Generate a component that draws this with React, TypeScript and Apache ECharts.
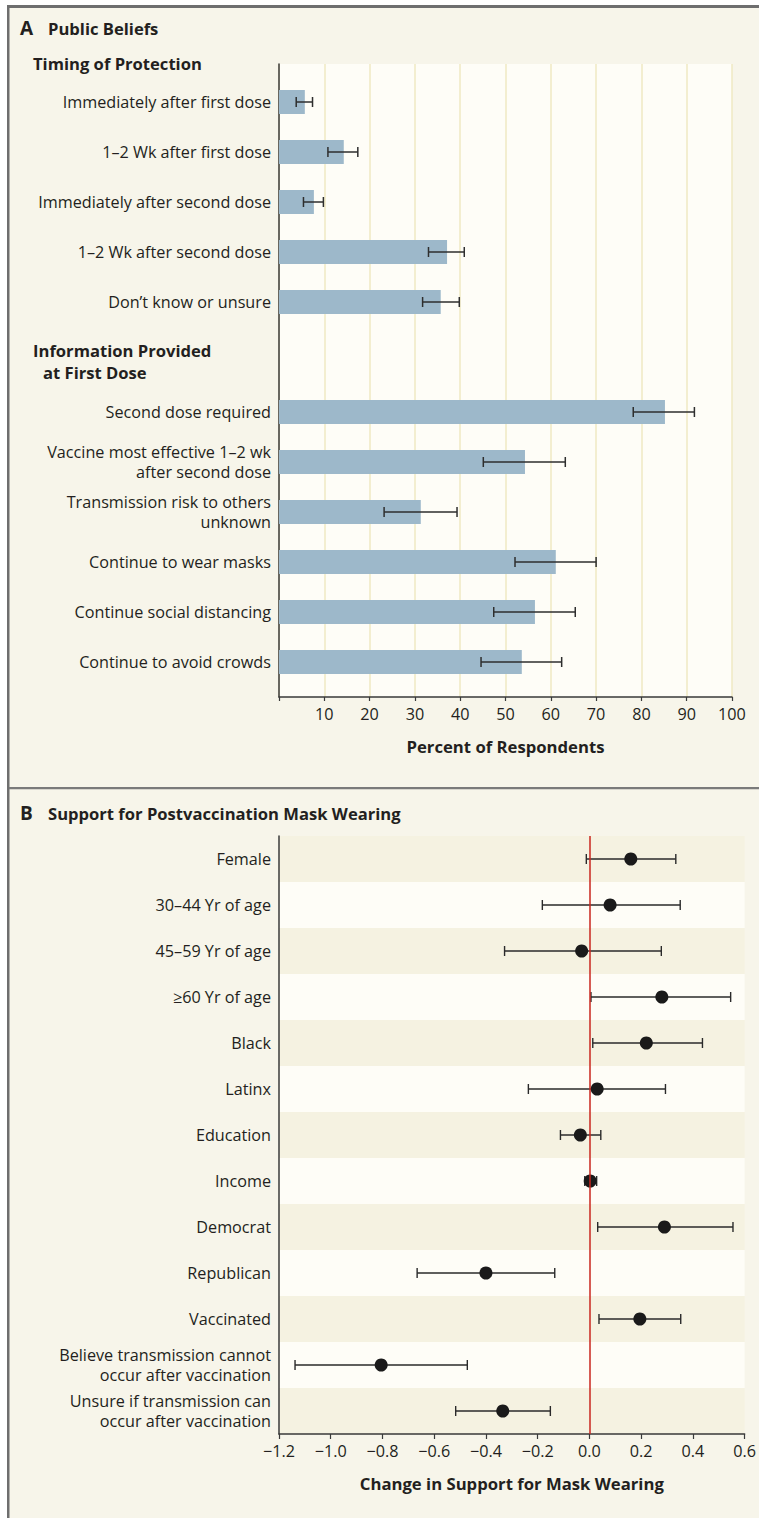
import React, { useEffect, useRef } from "react";
import * as echarts from "echarts";

// ---------- Panel A data ----------
const timingCats = [
  "Immediately after first dose",
  "1–2 Wk after first dose",
  "Immediately after second dose",
  "1–2 Wk after second dose",
  "Don’t know or unsure",
];
const timingVals = [5.7, 14.3, 7.7, 37.1, 35.7];
const timingLo = [3.8, 10.8, 5.4, 33.0, 31.7];
const timingHi = [7.4, 17.4, 9.8, 40.9, 39.8];

const infoCats = [
  "Second dose required",
  "Vaccine most effective 1–2 wk\nafter second dose",
  "Transmission risk to others\nunknown",
  "Continue to wear masks",
  "Continue social distancing",
  "Continue to avoid crowds",
];
const infoVals = [85.2, 54.3, 31.3, 61.1, 56.5, 53.6];
const infoLo = [78.2, 45.1, 23.2, 52.1, 47.4, 44.6];
const infoHi = [91.7, 63.2, 39.3, 70.0, 65.4, 62.4];

const percentTicks = [10, 20, 30, 40, 50, 60, 70, 80, 90, 100];

// ---------- Panel B data ----------
const maskCats = [
  "Female",
  "30–44 Yr of age",
  "45–59 Yr of age",
  "≥60 Yr of age",
  "Black",
  "Latinx",
  "Education",
  "Income",
  "Democrat",
  "Republican",
  "Vaccinated",
  "Believe transmission cannot\noccur after vaccination",
  "Unsure if transmission can\noccur after vaccination",
];
const maskEst = [0.16, 0.08, -0.03, 0.28, 0.22, 0.03, -0.035, 0.003, 0.29, -0.4, 0.195, -0.805, -0.335];
const maskLo = [-0.012, -0.182, -0.328, 0.006, 0.013, -0.236, -0.112, -0.018, 0.032, -0.666, 0.037, -1.138, -0.517];
const maskHi = [0.334, 0.351, 0.278, 0.546, 0.437, 0.294, 0.044, 0.028, 0.555, -0.134, 0.353, -0.472, -0.151];

const FONT = "Open Sans";
const TXT = "#231f20";
const LABEL_SIZE = 16.2;
const HEAD_SIZE = 16.6;
const NAME_SIZE = 16.7;

export default function App() {
  const ref = useRef<HTMLDivElement>(null);

  useEffect(() => {
    if (!ref.current) return;
    const chart = echarts.init(ref.current, undefined, { renderer: "svg" });

    // Panel A rows: group 1 in slots 0..4, group 2 after a gap
    const GROUP_GAP = 6.2;
    const rowsA: any[] = [];
    const labelsA: string[] = [];
    timingCats.forEach((c, i) => {
      rowsA.push([i, timingVals[i], timingLo[i], timingHi[i]]);
      labelsA.push(c);
    });
    infoCats.forEach((c, i) => {
      rowsA.push([GROUP_GAP + i, infoVals[i], infoLo[i], infoHi[i]]);
      labelsA.push(c);
    });

    const errB = maskCats.map((c, i) => [maskLo[i], maskHi[i], c]);
    const dotB = maskCats.map((c, i) => [maskEst[i], c]);

    const minus = (v: number, d: number) => v.toFixed(d).replace("-", "\u2212");

    const head = (text: string, x: number, y: number, size = HEAD_SIZE) => ({
      type: "text",
      x,
      y,
      style: { text, fontSize: size, fontWeight: "bold", fontFamily: FONT, fill: TXT, verticalAlign: "middle" },
    });

    const option: any = {
      animation: false,
      backgroundColor: "#f7f5ea",
      textStyle: { fontFamily: FONT },
      grid: [
        { left: 279, top: 64, width: 453, height: 633, show: true, backgroundColor: "#fefdf7", borderWidth: 0 },
        { left: 279, top: 836, width: 467, height: 598, show: false },
      ],
      xAxis: [
        {
          gridIndex: 0,
          type: "value",
          min: 0,
          max: 100,
          interval: 10,
          axisLine: { show: true, onZero: false, lineStyle: { color: "#3a3a3a", width: 1.5 } },
          axisTick: { show: true, length: 4, lineStyle: { color: "#3a3a3a", width: 1.2 } },
          splitLine: { show: true, lineStyle: { color: "#efe9c3", width: 1.5 } },
          axisLabel: {
            fontSize: LABEL_SIZE,
            color: TXT,
            fontFamily: FONT,
            margin: 9,
            formatter: (v: number) => (percentTicks.indexOf(v) >= 0 ? String(v) : ""),
          },
          name: "Percent of Respondents",
          nameLocation: "middle",
          nameGap: 41,
          nameTextStyle: { fontSize: NAME_SIZE, fontWeight: "bold", color: TXT, fontFamily: FONT },
        },
        {
          gridIndex: 1,
          type: "value",
          min: -1.2,
          max: 0.6,
          interval: 0.2,
          axisLine: { show: true, onZero: false, lineStyle: { color: "#3a3a3a", width: 1.5 } },
          axisTick: { show: true, length: 5, lineStyle: { color: "#3a3a3a", width: 1.2 } },
          splitLine: { show: false },
          axisLabel: {
            fontSize: LABEL_SIZE,
            color: TXT,
            fontFamily: FONT,
            margin: 9,
            formatter: (v: number) => minus(v, 1),
          },
          name: "Change in Support for Mask Wearing",
          nameLocation: "middle",
          nameGap: 41,
          nameTextStyle: { fontSize: NAME_SIZE, fontWeight: "bold", color: TXT, fontFamily: FONT },
        },
      ],
      yAxis: [
        {
          gridIndex: 0,
          type: "value",
          inverse: true,
          min: -0.76,
          max: 11.9,
          axisLine: { show: true, onZero: false, lineStyle: { color: "#3a3a3a", width: 1.5 } },
          axisTick: { show: false },
          axisLabel: { show: false },
          splitLine: { show: false },
        },
        {
          gridIndex: 1,
          type: "category",
          data: maskCats,
          inverse: true,
          axisLine: { show: true, onZero: false, lineStyle: { color: "#3a3a3a", width: 1.5 } },
          axisTick: { show: false },
          splitLine: { show: false },
          splitArea: { show: true, areaStyle: { color: ["#f5f2e1", "#fefdf7"] } },
          axisLabel: { fontSize: LABEL_SIZE, color: TXT, fontFamily: FONT, margin: 8, lineHeight: 20 },
        },
      ],
      series: [
        {
          type: "custom",
          xAxisIndex: 0,
          yAxisIndex: 0,
          data: rowsA,
          renderItem: (params: any, api: any) => {
            const y = api.value(0);
            const v = api.value(1);
            const lo = api.value(2);
            const hi = api.value(3);
            const p0 = api.coord([0, y]);
            const pv = api.coord([v, y]);
            const pl = api.coord([lo, y]);
            const ph = api.coord([hi, y]);
            const stroke = { stroke: "#2e2e2e", lineWidth: 1.5 };
            return {
              type: "group",
              children: [
                {
                  type: "rect",
                  shape: { x: p0[0], y: p0[1] - 12, width: pv[0] - p0[0], height: 24 },
                  style: { fill: "#9db8ca" },
                },
                { type: "line", shape: { x1: pl[0], y1: pl[1], x2: ph[0], y2: ph[1] }, style: stroke },
                { type: "line", shape: { x1: pl[0], y1: pl[1] - 5, x2: pl[0], y2: pl[1] + 5 }, style: stroke },
                { type: "line", shape: { x1: ph[0], y1: ph[1] - 5, x2: ph[0], y2: ph[1] + 5 }, style: stroke },
                {
                  type: "text",
                  x: p0[0] - 8,
                  y: p0[1],
                  style: {
                    text: labelsA[params.dataIndex],
                    align: "right",
                    verticalAlign: "middle",
                    fontSize: LABEL_SIZE,
                    fontFamily: FONT,
                    lineHeight: 20,
                    fill: TXT,
                  },
                },
              ],
            };
          },
        },
        {
          type: "custom",
          xAxisIndex: 1,
          yAxisIndex: 1,
          data: errB,
          z: 2,
          renderItem: (params: any, api: any) => {
            const lo = api.coord([api.value(0), params.dataIndex]);
            const hi = api.coord([api.value(1), params.dataIndex]);
            const stroke = { stroke: "#2a2a2a", lineWidth: 1.4 };
            return {
              type: "group",
              children: [
                { type: "line", shape: { x1: lo[0], y1: lo[1], x2: hi[0], y2: hi[1] }, style: stroke },
                { type: "line", shape: { x1: lo[0], y1: lo[1] - 5, x2: lo[0], y2: lo[1] + 5 }, style: stroke },
                { type: "line", shape: { x1: hi[0], y1: hi[1] - 5, x2: hi[0], y2: hi[1] + 5 }, style: stroke },
              ],
            };
          },
          markLine: {
            silent: true,
            symbol: ["none", "none"],
            label: { show: false },
            lineStyle: { color: "#c8261e", width: 1.5, type: "solid" },
            data: [{ xAxis: 0 }],
          },
        },
        {
          type: "scatter",
          xAxisIndex: 1,
          yAxisIndex: 1,
          data: dotB,
          symbol: "circle",
          symbolSize: 13,
          z: 4,
          itemStyle: { color: "#1a1a1a", opacity: 1 },
        },
      ],
      graphic: [
        { type: "rect", shape: { x: 0, y: 0, width: 759, height: 5 }, style: { fill: "#ffffff" } },
        { type: "rect", shape: { x: 0, y: 0, width: 7, height: 1518 }, style: { fill: "#ffffff" } },
        { type: "rect", shape: { x: 7, y: 5, width: 752, height: 3 }, style: { fill: "#6e6e6e" } },
        { type: "rect", shape: { x: 7, y: 5, width: 2.5, height: 1513 }, style: { fill: "#6e6e6e" } },
        { type: "rect", shape: { x: 9, y: 787, width: 750, height: 2.2 }, style: { fill: "#7a7a7a" } },
        head("A", 20, 28, 19),
        head("Public Beliefs", 48, 28),
        head("Timing of Protection", 33, 63),
        head("Information Provided", 33, 350),
        head("at First Dose", 43, 372),
        head("B", 20, 813, 19),
        head("Support for Postvaccination Mask Wearing", 48, 813),
      ],
    };

    chart.setOption(option);
    return () => chart.dispose();
  }, []);

  return (
    <div
      ref={ref}
      style={{ position: "absolute", left: 0, top: 0, width: 759, height: 1518, background: "#ffffff" }}
    />
  );
}
